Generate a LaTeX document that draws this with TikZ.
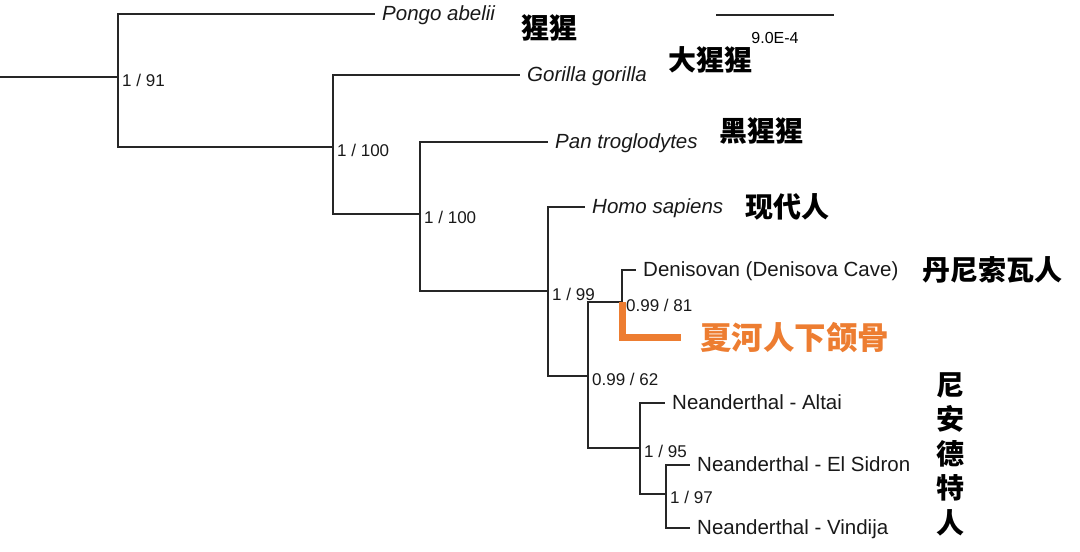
\documentclass[tikz,border=0pt]{standalone}
\usepackage{fontspec}
\setmainfont{Liberation Sans}
\newfontfamily\cjk{Noto Sans CJK SC}
\usepackage{tikz}
\definecolor{xiaheorange}{RGB}{237,125,49}

\begin{document}
\begin{tikzpicture}[x=1pt, y=-1pt]
    \tikzstyle{branch} = [line width=1.6pt, black!85]
    \tikzstyle{leaf} = [anchor=west, inner xsep=7pt, inner ysep=0pt, text height=13pt, text depth=0pt, font=\fontsize{20.5}{24}\selectfont, black!90]
    \tikzstyle{support} = [anchor=west, inner sep=1pt, xshift=3pt, yshift=-3pt, font=\fontsize{17}{20}\selectfont, black!90]
    \tikzstyle{cn} = [anchor=west, inner sep=0pt, font=\cjk\bfseries\fontsize{28}{30}\selectfont]
    \useasboundingbox (0,0) rectangle (1080,552);
    % inner nodes of the tree with their support values
    \coordinate (root) at (0,77);
    \foreach \n/\x/\y/\s in {nA/118/77/{1 / 91}, nB/333/147/{1 / 100}, nC/420/214/{1 / 100}, nD/548/291/{1 / 99},
        nE/588/376/{0.99 / 62}, nF/622/302/{0.99 / 81}, nG/640/448/{1 / 95}, nH/666/494/{1 / 97}} {
        \coordinate (\n) at (\x,\y);
        \node[support] (\n-lab) at (\n) {\s};
    }
    % tips
    \foreach \n/\x/\y/\t in {pongo/375/14/{Pongo abelii}, gorilla/520/75/{Gorilla gorilla},
        pan/548/142/{Pan troglodytes}, homo/585/207/{Homo sapiens}}
        \node[leaf] (\n) at (\x,\y) {\itshape\t};
    \foreach \n/\x/\y/\t in {deni/636/270/{Denisovan (Denisova Cave)}, altai/665/403/{Neanderthal - Altai},
        sidron/690/465/{Neanderthal - El Sidron}, vindija/690/528/{Neanderthal - Vindija}}
        \node[leaf] (\n) at (\x,\y) {\t};
    % branches
    \draw[branch] (root) -- (nA);
    \foreach \a/\b in {nA/pongo, nA/nB, nB/gorilla, nB/nC, nC/pan, nC/nD, nD/homo, nD/nE,
        nE/nF, nE/nG, nF/deni, nG/altai, nG/nH, nH/sidron, nH/vindija}
        \draw[branch] (\a) |- (\b);
    % Xiahe mandible
    \coordinate (xiahe-end) at (681,337);
    \draw[line width=7pt, xiaheorange] (nF) |- (xiahe-end);
    \node[cn, xiaheorange, font=\cjk\bfseries\fontsize{31.5}{32}\selectfont] (xiahe) at (700,338) {夏河人下颌骨};
    % scale bar
    \coordinate (sbL) at (716,15);
    \coordinate (sbR) at (834,15);
    \draw[branch] (sbL) -- (sbR);
    \node[font=\fontsize{16}{18}\selectfont, inner sep=0pt] (sb-lab) at (775,38) {9.0E-4};
    % chinese names
    \node[cn] (cn-pongo) at (521,28) {猩猩};
    \node[cn] (cn-gorilla) at (668,60) {大猩猩};
    \node[cn] (cn-pan) at (719,131) {黑猩猩};
    \node[cn] (cn-homo) at (745,207) {现代人};
    \node[cn] (cn-deni) at (922,270) {丹尼索瓦人};
    \node[cn, anchor=north, align=center, font=\cjk\bfseries\fontsize{28}{34.5}\selectfont] (cn-nean) at (950,372) {尼\\安\\德\\特\\人};
\end{tikzpicture}
\end{document}
